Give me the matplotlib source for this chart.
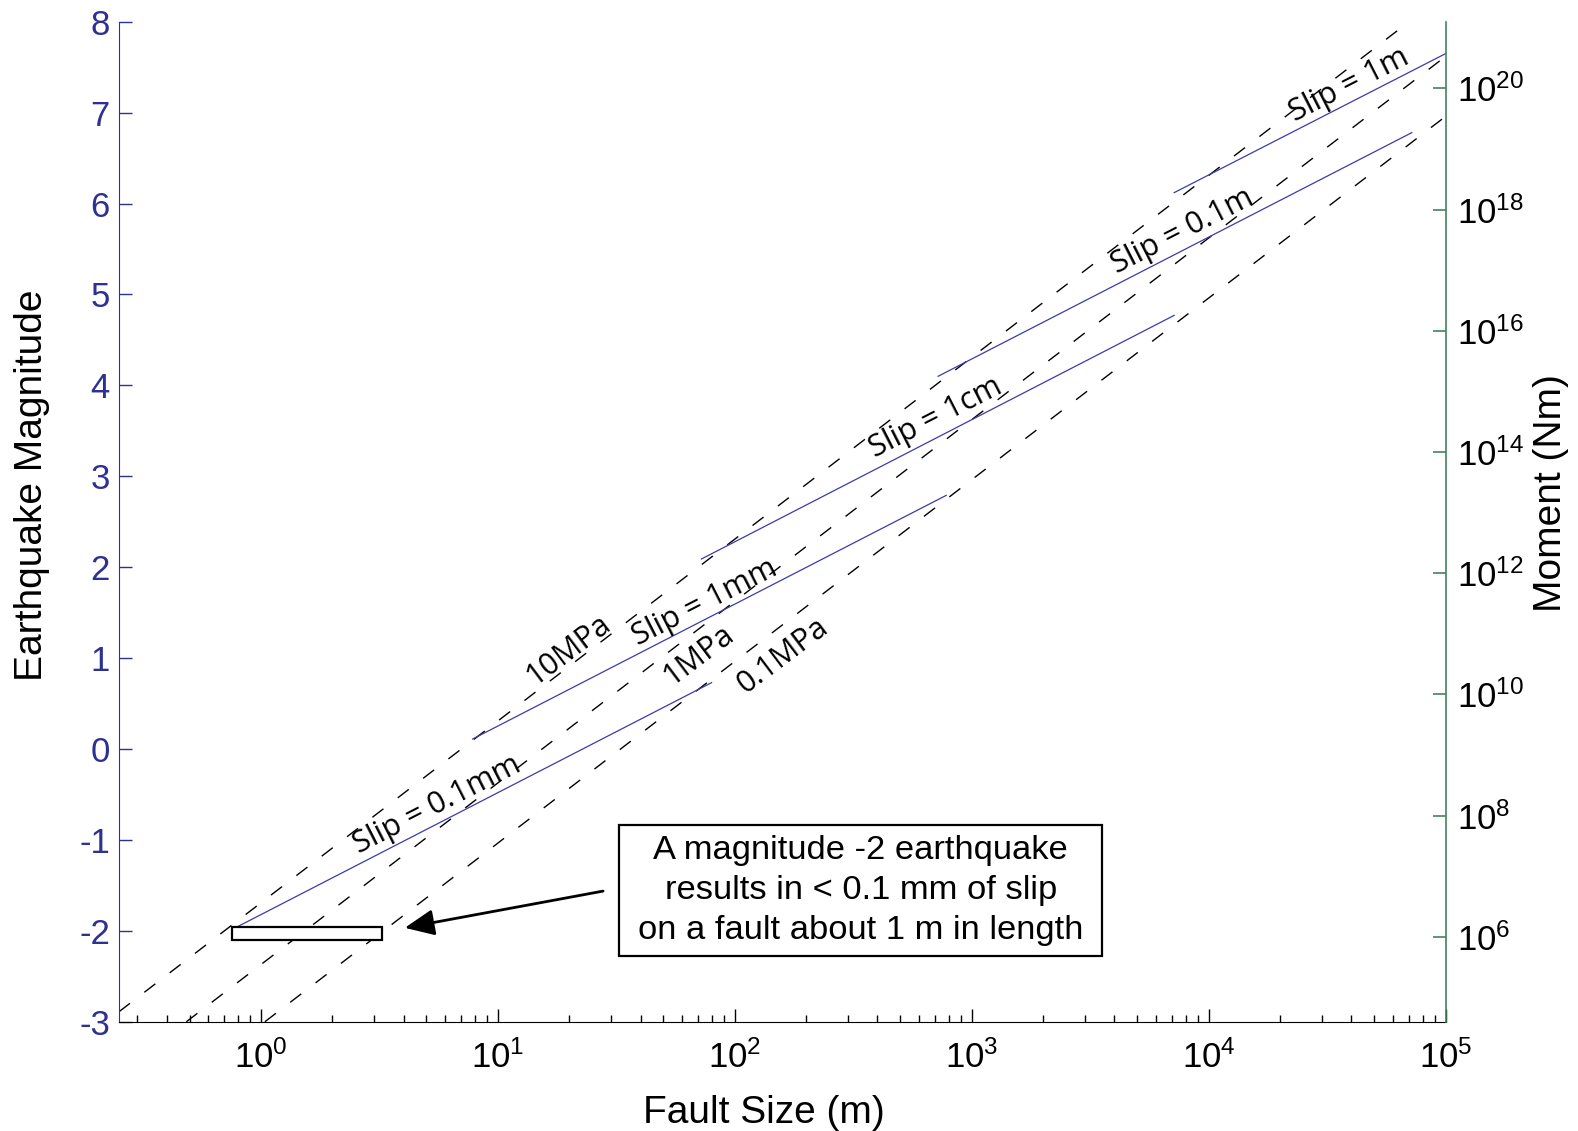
import matplotlib
matplotlib.use('Agg')
import matplotlib.pyplot as plt
from matplotlib.patches import Rectangle
from matplotlib.ticker import FixedLocator, NullLocator

plt.rcParams['font.family'] = ['Liberation Sans', 'DejaVu Sans']
plt.rcParams['mathtext.default'] = 'regular'
plt.rcParams['axes.unicode_minus'] = False

# dashed stress-drop lines: end points (fault size in m, magnitude)
stress_names = ['10MPa', '1MPa', '0.1MPa']
stress_x = [[0.252, 7.0e4], [0.485, 1e5], [1.04, 1e5]]
stress_m = [[-2.89, 8.0], [-3.0, 7.62], [-3.0, 6.96]]
stress_label_x = [19.8, 70, 160]
stress_label_m = [1.09, 1.03, 1.03]

# blue constant-slip segments
slip_names = ['Slip = 0.1mm', 'Slip = 1mm', 'Slip = 1cm', 'Slip = 0.1m', 'Slip = 1m']
slip_x = [[0.776, 79.8], [7.83, 780], [72.3, 7145], [721, 71900], [7145, 1e5]]
slip_m = [[-1.97, 0.73], [0.11, 2.79], [2.09, 4.77], [4.10, 6.78], [6.12, 7.65]]
slip_label_x = [5.53, 74.8, 706, 7760, 39000]
slip_label_m = [-0.62, 1.61, 3.64, 5.69, 7.30]

# highlighted magnitude -2 / 1 m fault
box_x = [0.754, 3.24]
box_m = [-2.097, -1.954]
arrow_tail = (27.8, -1.563)
arrow_head = (4.05, -1.967)
note = 'A magnitude -2 earthquake\nresults in < 0.1 mm of slip\non a fault about 1 m in length'

mag_ticks = list(range(-3, 9))
moment_ticks = [1e6, 1e8, 1e10, 1e12, 1e14, 1e16, 1e18, 1e20]

blue = '#2e3192'
line_blue = '#3b3bab'
green = '#3f8560'

fig = plt.figure(figsize=(15.78, 11.31), dpi=100)
ax = fig.add_axes([0.0754, 0.0966, 0.8408, 0.8842])
ax.set_xscale('log')
ax.set_xlim(0.252, 1e5)
ax.set_ylim(-3, 8)

for xs, ms in zip(stress_x, stress_m):
    ax.plot(xs, ms, color='black', lw=1.0, dashes=(10, 13), zorder=2)
for name, x, m in zip(stress_names, stress_label_x, stress_label_m):
    ax.text(x, m, name, rotation=37, ha='center', va='center', fontsize=22,
            family=['Open Sans', 'DejaVu Sans'], rotation_mode='anchor', zorder=4)

for xs, ms in zip(slip_x, slip_m):
    ax.plot(xs, ms, color=line_blue, lw=0.9, zorder=3)
for name, x, m in zip(slip_names, slip_label_x, slip_label_m):
    ax.text(x, m, name, rotation=27, ha='center', va='center', fontsize=22,
            family=['Open Sans', 'DejaVu Sans'], rotation_mode='anchor', zorder=4)

ax.add_patch(Rectangle((box_x[0], box_m[0]), box_x[1] - box_x[0], box_m[1] - box_m[0],
                       facecolor='white', edgecolor='black', lw=1.6, zorder=5))

ax.annotate('', xy=arrow_head, xytext=arrow_tail,
            arrowprops=dict(arrowstyle='-|>,head_length=0.9,head_width=0.4',
                            mutation_scale=20, color='black', lw=2,
                            shrinkA=0, shrinkB=0), zorder=6)

ax.add_patch(Rectangle((0.3769, 0.0657), 0.3641, 0.131, transform=ax.transAxes,
                       facecolor='white', edgecolor='black', lw=1.6, zorder=6))
ax.text(0.559, 0.131, note, transform=ax.transAxes, ha='center', va='center',
        multialignment='center', fontsize=24.8, linespacing=1.38, zorder=7)

# axes styling
ax.spines['top'].set_visible(False)
ax.spines['right'].set_visible(False)
ax.spines['left'].set_color(blue)
ax.spines['bottom'].set_color('black')
ax.yaxis.set_major_locator(FixedLocator(mag_ticks))
ax.tick_params(axis='y', direction='in', length=9.5, width=1, colors=blue,
               labelsize=25, pad=6.5)
ax.tick_params(axis='x', which='major', direction='in', length=9.5, width=1,
               labelsize=25, pad=13, top=False)
ax.tick_params(axis='x', which='minor', direction='in', length=5, width=1, top=False)

ax2 = ax.twinx()
ax2.set_yscale('log')
ax2.set_ylim(10 ** (1.5 * -3 + 9.1), 10 ** (1.5 * 8 + 9.1))
ax2.yaxis.set_major_locator(FixedLocator(moment_ticks))
ax2.yaxis.set_minor_locator(NullLocator())
for s in ['top', 'left', 'bottom']:
    ax2.spines[s].set_visible(False)
ax2.spines['right'].set_color(green)
ax2.spines['right'].set_linewidth(1.2)
ax2.tick_params(axis='y', direction='in', length=9.5, width=1.2, color=green,
                labelcolor='black', labelsize=25, pad=8)

ax.set_xlabel('Fault Size (m)', fontsize=28)
ax.xaxis.set_label_coords(0.486, -0.073)
ax.set_ylabel('Earthquake Magnitude', fontsize=28)
ax.yaxis.set_label_coords(-0.0518, 0.536)
ax2.set_ylabel('Moment (Nm)', fontsize=28)
ax2.yaxis.set_label_coords(1.0658, 0.529)

fig.savefig('out.png', dpi=100)
